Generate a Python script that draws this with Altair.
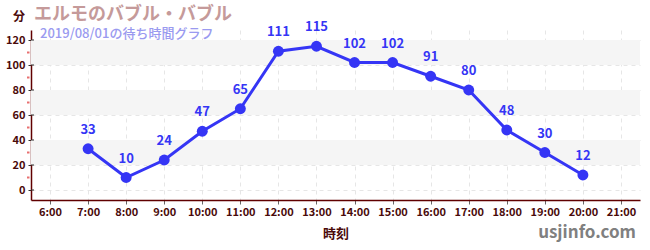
import altair as alt
import pandas as pd

hours = [7, 8, 9, 10, 11, 12, 13, 14, 15, 16, 17, 18, 19, 20]
waits = [33, 10, 24, 47, 65, 111, 115, 102, 102, 91, 80, 48, 30, 12]
x_ticks = list(range(6, 22))
y_ticks = [0, 20, 40, 60, 80, 100, 120]
minor_ticks = [10, 30, 50, 70, 90, 110]
band_lo = [20, 60, 100]
band_hi = [40, 80, 120]

title_text = "エルモのバブル・バブル"
subtitle_text = "2019/08/01の待ち時間グラフ"
unit_text = "分"
x_title = "時刻"
credit = "usjinfo.com"

FONT = "Noto Sans CJK JP"
BLUE = "#3535f5"
AXC = "#4a0a0a"

df = pd.DataFrame({"hour": hours, "wait": waits})
bands = pd.DataFrame({"lo": band_lo, "hi": band_hi})
minor = pd.DataFrame({"v": minor_ticks})
major = pd.DataFrame({"v": y_ticks})

xscale = alt.Scale(domain=[5.5, 21.5], nice=False, zero=False)
yscale = alt.Scale(domain=[-8, 128], nice=False, zero=False)

XAXIS = alt.Axis(values=x_ticks, labelExpr="datum.value + ':00'",
                 title=x_title, titleFont=FONT, titleFontSize=13,
                 titleFontWeight="bold", titleColor=AXC, titlePadding=10,
                 labelFont=FONT, labelFontSize=11, labelColor=AXC,
                 labelFontWeight="bold", labelOverlap=False,
                 domainColor="#600000", domainWidth=1.5,
                 tickColor="#666666", tickSize=4,
                 grid=True, gridDash=[4, 4], gridColor="#e6e6e6")
YAXIS = alt.Axis(values=y_ticks, title=None,
                 labelFont=FONT, labelFontSize=11, labelColor=AXC,
                 labelFontWeight="bold", labelPadding=3,
                 labelOverlap=False,
                 domainColor="#600000", domainWidth=1.5,
                 tickColor="#333333", tickSize=3,
                 grid=True, gridDash=[4, 4], gridColor="#e6e6e6")

base = alt.Chart(df)

band_layer = alt.Chart(bands).mark_rect(color="#f5f5f5").encode(
    y=alt.Y("lo:Q", scale=yscale, axis=YAXIS),
    y2="hi:Q",
    x=alt.value(0),
    x2=alt.value(609),
)

line = base.mark_line(color=BLUE, strokeWidth=3).encode(
    x=alt.X("hour:Q", scale=xscale, axis=XAXIS),
    y=alt.Y("wait:Q", scale=yscale, axis=YAXIS),
)

points = base.mark_circle(color=BLUE, size=120, opacity=1).encode(
    x=alt.X("hour:Q", scale=xscale, axis=XAXIS),
    y=alt.Y("wait:Q", scale=yscale, axis=YAXIS))

labels = base.mark_text(color=BLUE, font=FONT, fontSize=13, fontWeight="bold",
                        dy=-12, baseline="bottom").encode(
    x=alt.X("hour:Q", scale=xscale, axis=XAXIS),
    y=alt.Y("wait:Q", scale=yscale, axis=YAXIS),
    text="wait:Q")

minor_layer = alt.Chart(minor).mark_rule(color="#e87070", strokeWidth=2).encode(
    y=alt.Y("v:Q", scale=yscale, axis=YAXIS), x=alt.value(-4), x2=alt.value(-1.5))

major_in = alt.Chart(major).mark_rule(color="#333333", strokeWidth=1).encode(
    y=alt.Y("v:Q", scale=yscale, axis=YAXIS), x=alt.value(0), x2=alt.value(3))

one = pd.DataFrame({"a": [0]})
t_title = alt.Chart(one).mark_text(text=title_text, font=FONT, fontSize=18,
                                   fontWeight="bold", color="#c59a9a",
                                   align="left", baseline="middle").encode(
    x=alt.value(3), y=alt.value(-15))
t_sub = alt.Chart(one).mark_text(text=subtitle_text, font=FONT, fontSize=13,
                                 fontWeight=500, color="#9a9af0", align="left",
                                 baseline="middle").encode(
    x=alt.value(9), y=alt.value(4))
t_unit = alt.Chart(one).mark_text(text=unit_text, font=FONT, fontSize=12,
                                  fontWeight="bold", color=AXC, align="center",
                                  baseline="middle").encode(
    x=alt.value(-12), y=alt.value(-13))
t_credit = alt.Chart(one).mark_text(text=credit, font=FONT, fontSize=17,
                                    fontWeight="bold", color="#808080",
                                    align="right", baseline="middle").encode(
    x=alt.value(605), y=alt.value(203))

chart = alt.layer(band_layer, line, points, labels, minor_layer, major_in,
                  t_title, t_sub, t_unit, t_credit).properties(
    width=609, height=170,
    autosize=alt.AutoSizeParams(type="none"),
    padding={"left": 31, "top": 30, "right": 10, "bottom": 50},
).configure_view(stroke=None)

chart.save("out.html", embed_options={"renderer": "svg", "actions": False})
